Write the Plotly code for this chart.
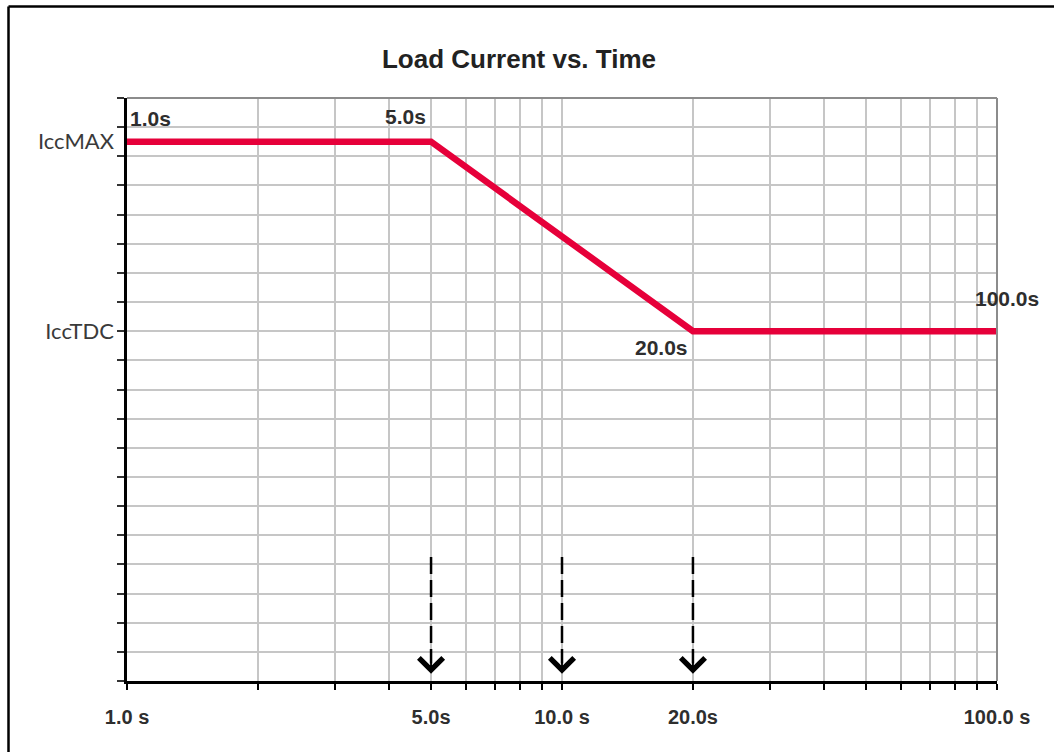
import math
import plotly.graph_objects as go

# ---- data -------------------------------------------------------------
# load profile: time (s) vs. current level (grid units, 0..20)
time_s = [1, 5, 20, 100]
icc_max = 18.5
icc_tdc = 12
current = [icc_max, icc_max, icc_tdc, icc_tdc]
point_labels = ["1.0s", "5.0s", "20.0s", "100.0s"]

# labelled x ticks
xtick_vals = [1, 5, 10, 20, 100]
xtick_text = ["1.0 s", "5.0s", "10.0 s", "20.0s", "100.0 s"]

# y-axis level labels
ylevel_vals = [icc_max, icc_tdc]
ylevel_text = ["IccMAX", "IccTDC"]

# marker arrows pointing to the time axis
arrow_times = [5, 10, 20]
arrow_top = 4.25
arrow_tip = 0.25

# ---- layout geometry -------------------------------------------------
W, H = 1054, 752
ML, MR, MT, MB = 127, 57, 98, 71
PW, PH = W - ML - MR, H - MT - MB

def px_x(px):
    return (px - ML) / PW

def px_y(py):
    return (H - MB - py) / PH

RED = "#E6003A"
GRID = "#c6c6c6"
TXT = "#2e2e2e"
BOLD = "Liberation Sans, Arial, sans-serif"

# full log-decade tick set (ticks + vertical grid), labels only at xtick_vals
all_x = [m * 10 ** d for d in (0, 1) for m in range(1, 10)] + [100]
all_x_text = [xtick_text[xtick_vals.index(v)] if v in xtick_vals else "" for v in all_x]

fig = go.Figure()

# dashed guide arrows
for t in arrow_times:
    fig.add_trace(go.Scatter(
        x=[t, t], y=[arrow_top, arrow_tip + 0.35], mode="lines",
        line=dict(color="black", width=2.5, dash="17px,6px"),
        hoverinfo="skip", showlegend=False))
    # annotation positions on a log axis are given in log10 units
    fig.add_annotation(
        x=math.log10(t), y=arrow_tip, xref="x", yref="y", ax=0, ay=-14,
        text="", showarrow=True, arrowhead=4, arrowsize=2.6,
        arrowwidth=1.8, arrowcolor="black")

# load current profile
fig.add_trace(go.Scatter(
    x=time_s, y=current, mode="lines",
    line=dict(color=RED, width=6.5), hoverinfo="skip", showlegend=False))

# labels at profile corners
offsets = [
    dict(xanchor="left", xshift=1, yshift=23),
    dict(xanchor="right", xshift=-3, yshift=25),
    dict(xanchor="right", xshift=-3, yshift=-16),
    dict(xanchor="center", xshift=10, yshift=33),
]
for t, c, lab, off in zip(time_s, current, point_labels, offsets):
    fig.add_annotation(
        x=math.log10(t), y=c, xref="x", yref="y", text=lab, showarrow=False,
        yanchor="middle",
        font=dict(family=BOLD, size=21, color=TXT, weight="bold"), **off)

# invisible trace to activate the label axis
fig.add_trace(go.Scatter(x=[1], y=[0], yaxis="y2", mode="markers",
                         marker=dict(opacity=0), hoverinfo="skip", showlegend=False))

# plot frame: gray top/right edges
fig.add_shape(type="line", xref="paper", yref="paper", x0=0, x1=1, y0=1, y1=1,
              line=dict(color="#8c8c8c", width=2))
fig.add_shape(type="line", xref="paper", yref="paper", x0=1, x1=1, y0=0, y1=1,
              line=dict(color="#8c8c8c", width=2))

# outer figure border (left and top)
fig.add_shape(type="line", xref="paper", yref="paper",
              x0=px_x(8.5), x1=px_x(8.5), y0=px_y(6.5), y1=px_y(H + 5),
              line=dict(color="black", width=2.5))
fig.add_shape(type="line", xref="paper", yref="paper",
              x0=px_x(8.5), x1=px_x(W + 5), y0=px_y(6.5), y1=px_y(6.5),
              line=dict(color="black", width=2.5))

fig.update_layout(
    width=W, height=H,
    margin=dict(l=ML, r=MR, t=MT, b=MB, pad=0),
    paper_bgcolor="white", plot_bgcolor="white",
    title=dict(text="Load Current vs. Time", x=519 / W, xanchor="center",
               y=1 - 59 / H, yanchor="middle", xref="container", yref="container",
               font=dict(family=BOLD, size=26, color="#222222", weight="bold")),
    xaxis=dict(type="log", range=[0, 2], tickmode="array",
               tickvals=all_x, ticktext=all_x_text,
               ticks="outside", ticklen=6, tickwidth=2, tickcolor="black",
               showgrid=True, gridcolor=GRID, gridwidth=1.8,
               showline=True, linecolor="black", linewidth=3,
               zeroline=False, ticklabelstandoff=10,
               tickfont=dict(family=BOLD, size=20, color=TXT, weight="bold")),
    yaxis=dict(range=[0, 20], tickmode="array", tickvals=list(range(0, 21)),
               showticklabels=False, ticks="outside", ticklen=7, tickwidth=1.5,
               tickcolor="#333333", showgrid=True, gridcolor=GRID, gridwidth=1.8,
               showline=True, linecolor="black", linewidth=2.5, zeroline=False),
    yaxis2=dict(range=[0, 20], overlaying="y", side="left", tickmode="array",
                tickvals=ylevel_vals, ticktext=ylevel_text, ticks="",
                showgrid=False, showline=False, zeroline=False,
                ticklabelstandoff=12,
                tickfont=dict(family="Lato, Open Sans, sans-serif", size=22,
                              color="#3a3a3a")),
    showlegend=False,
)

fig.write_html("out.html")
